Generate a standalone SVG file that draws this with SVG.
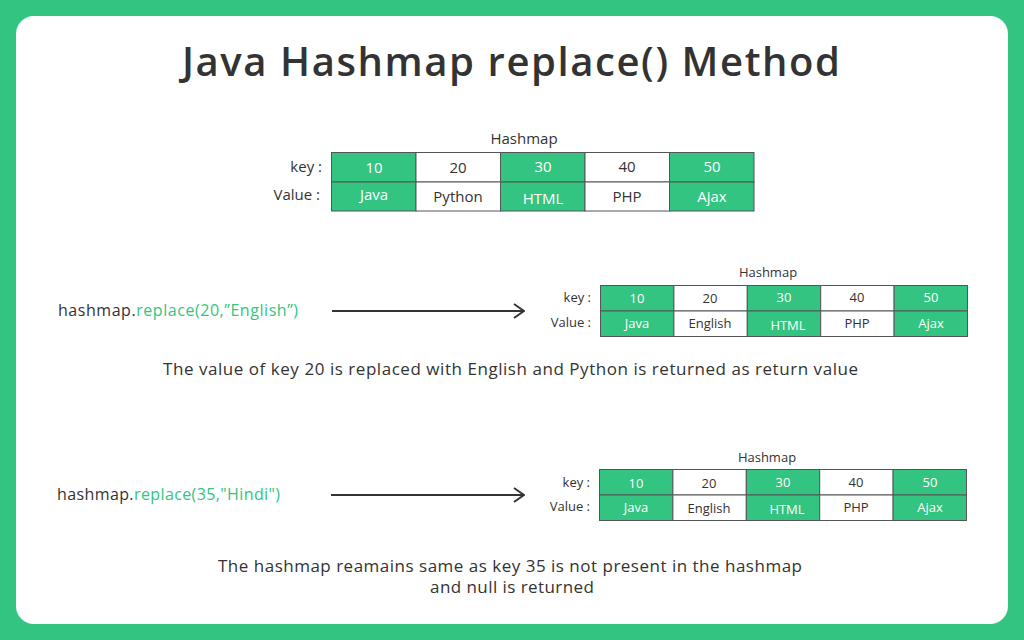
<svg xmlns="http://www.w3.org/2000/svg" width="1024" height="640" viewBox="0 0 1024 640">
<defs>
<style>
.t{font-family:"Open Sans","Liberation Sans",sans-serif;fill:#333}
.g{fill:#33c481;stroke:#555;stroke-width:1}
.w{fill:#fff;stroke:#555;stroke-width:1}
.cw{font-family:"Open Sans","Liberation Sans",sans-serif;fill:#fff;text-anchor:middle}
.cd{font-family:"Open Sans","Liberation Sans",sans-serif;fill:#333;text-anchor:middle}
.lab{font-family:"Open Sans","Liberation Sans",sans-serif;fill:#333;text-anchor:end}
.grn{fill:#33c481}
</style>
<marker id="ah" viewBox="0 0 12 16" refX="11" refY="8" markerWidth="12" markerHeight="16" markerUnits="userSpaceOnUse" orient="auto">
<path d="M1,1 L11,8 L1,15" fill="none" stroke="#333" stroke-width="2"/>
</marker>
</defs>
<rect width="1024" height="640" fill="#33c481"/>
<rect x="16" y="16" width="992" height="608" rx="18" fill="#fff"/>
<text x="182" y="76" class="t" font-size="40" font-weight="600" textLength="658" lengthAdjust="spacing">Java Hashmap replace() Method</text>

<g id="table1">
<text x="524" y="144" class="cd" font-size="15">Hashmap</text>
<text x="322" y="172" class="lab" font-size="15">key :</text>
<text x="320" y="200" class="lab" font-size="15">Value :</text>
<rect x="331.5" y="152.5" width="84.5" height="29.5" class="g"/>
<rect x="416" y="152.5" width="84.5" height="29.5" class="w"/>
<rect x="500.5" y="152.5" width="84.5" height="29.5" class="g"/>
<rect x="585" y="152.5" width="84.5" height="29.5" class="w"/>
<rect x="669.5" y="152.5" width="84.5" height="29.5" class="g"/>
<rect x="331.5" y="182" width="84.5" height="29" class="g"/>
<rect x="416" y="182" width="84.5" height="29" class="w"/>
<rect x="500.5" y="182" width="84.5" height="29" class="g"/>
<rect x="585" y="182" width="84.5" height="29" class="w"/>
<rect x="669.5" y="182" width="84.5" height="29" class="g"/>
<g font-size="15">
<text x="374" y="173" class="cw">10</text>
<text x="458" y="173" class="cd">20</text>
<text x="543" y="172" class="cw">30</text>
<text x="627" y="172" class="cd">40</text>
<text x="712" y="172" class="cw">50</text>
<text x="374" y="200" class="cw">Java</text>
<text x="458" y="202" class="cd">Python</text>
<text x="543" y="204" class="cw">HTML</text>
<text x="627" y="202" class="cd">PHP</text>
<text x="712" y="202" class="cw">Ajax</text>
</g>
</g>

<g id="call1">
<text x="58" y="316" class="t" font-size="16" textLength="240" lengthAdjust="spacing">hashmap.<tspan class="grn">replace(20,”English”)</tspan></text>
</g>

<g id="table2">
<text x="768" y="277" class="cd" font-size="13">Hashmap</text>
<text x="591" y="302" class="lab" font-size="13">key :</text>
<text x="591" y="327" class="lab" font-size="13">Value :</text>
<rect x="600.5" y="285.5" width="73.4" height="25.5" class="g"/>
<rect x="673.9" y="285.5" width="73.4" height="25.5" class="w"/>
<rect x="747.3" y="285.5" width="73.4" height="25.5" class="g"/>
<rect x="820.7" y="285.5" width="73.4" height="25.5" class="w"/>
<rect x="894.1" y="285.5" width="73.4" height="25.5" class="g"/>
<rect x="600.5" y="311" width="73.4" height="25.5" class="g"/>
<rect x="673.9" y="311" width="73.4" height="25.5" class="w"/>
<rect x="747.3" y="311" width="73.4" height="25.5" class="g"/>
<rect x="820.7" y="311" width="73.4" height="25.5" class="w"/>
<rect x="894.1" y="311" width="73.4" height="25.5" class="g"/>
<g font-size="13">
<text x="637" y="303" class="cw">10</text>
<text x="710" y="303" class="cd">20</text>
<text x="784" y="302" class="cw">30</text>
<text x="857" y="302" class="cd">40</text>
<text x="931" y="302" class="cw">50</text>
<text x="637" y="328" class="cw">Java</text>
<text x="710" y="328" class="cd">English</text>
<text x="788" y="330" class="cw">HTML</text>
<text x="857" y="328" class="cd">PHP</text>
<text x="931" y="328" class="cw">Ajax</text>
</g>
</g>

<text x="163" y="375" class="t" font-size="17" textLength="695" lengthAdjust="spacing">The value of key 20  is replaced with English and Python is returned as return value</text>

<g id="call2">
<text x="57" y="500" class="t" font-size="16" textLength="223" lengthAdjust="spacing">hashmap.<tspan class="grn">replace(35,"Hindi")</tspan></text>
</g>

<g id="table3">
<text x="767" y="462" class="cd" font-size="13">Hashmap</text>
<text x="590" y="487" class="lab" font-size="13">key :</text>
<text x="590" y="511" class="lab" font-size="13">Value :</text>
<rect x="599.5" y="469.5" width="73.4" height="25.5" class="g"/>
<rect x="672.9" y="469.5" width="73.4" height="25.5" class="w"/>
<rect x="746.3" y="469.5" width="73.4" height="25.5" class="g"/>
<rect x="819.7" y="469.5" width="73.4" height="25.5" class="w"/>
<rect x="893.1" y="469.5" width="73.4" height="25.5" class="g"/>
<rect x="599.5" y="495" width="73.4" height="25.5" class="g"/>
<rect x="672.9" y="495" width="73.4" height="25.5" class="w"/>
<rect x="746.3" y="495" width="73.4" height="25.5" class="g"/>
<rect x="819.7" y="495" width="73.4" height="25.5" class="w"/>
<rect x="893.1" y="495" width="73.4" height="25.5" class="g"/>
<g font-size="13">
<text x="636" y="488" class="cw">10</text>
<text x="709" y="488" class="cd">20</text>
<text x="783" y="487" class="cw">30</text>
<text x="856" y="487" class="cd">40</text>
<text x="930" y="487" class="cw">50</text>
<text x="636" y="512" class="cw">Java</text>
<text x="709" y="513" class="cd">English</text>
<text x="787" y="514" class="cw">HTML</text>
<text x="856" y="512" class="cd">PHP</text>
<text x="930" y="512" class="cw">Ajax</text>
</g>
</g>

<text x="218" y="572" class="t" font-size="17" textLength="584" lengthAdjust="spacing">The hashmap reamains same as key 35 is not present in the hashmap</text>
<text x="430" y="593" class="t" font-size="17" textLength="164" lengthAdjust="spacing">and null is returned</text>

<g id="connectors" stroke="#333" stroke-width="2" fill="none">
<line x1="332" y1="311" x2="524" y2="311" marker-end="url(#ah)"/>
<line x1="331" y1="495" x2="524" y2="495" marker-end="url(#ah)"/>
</g>
</svg>
